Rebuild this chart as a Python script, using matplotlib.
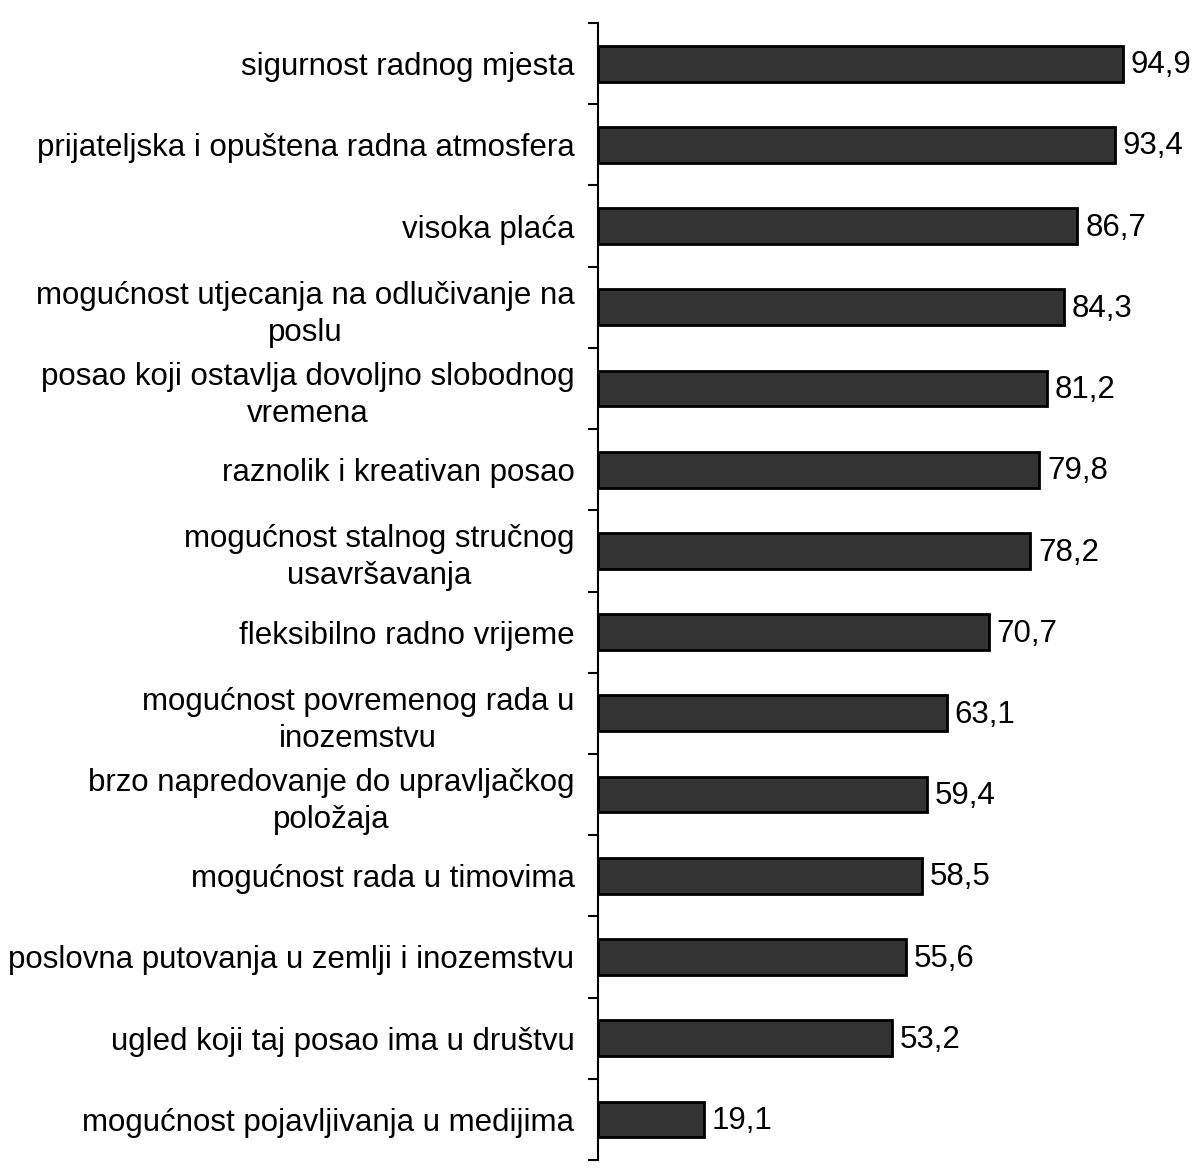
import matplotlib.pyplot as plt
import numpy as np

plt.rcParams['font.family'] = ['Liberation Sans', 'DejaVu Sans']

kategorije = [
    "sigurnost radnog mjesta",
    "prijateljska i opuštena radna atmosfera",
    "visoka plaća",
    "mogućnost utjecanja na odlučivanje na\nposlu",
    "posao koji ostavlja dovoljno slobodnog\nvremena",
    "raznolik i kreativan posao",
    "mogućnost stalnog stručnog\nusavršavanja",
    "fleksibilno radno vrijeme",
    "mogućnost povremenog rada u\ninozemstvu",
    "brzo napredovanje do upravljačkog\npoložaja",
    "mogućnost rada u timovima",
    "poslovna putovanja u zemlji i inozemstvu",
    "ugled koji taj posao ima u društvu",
    "mogućnost pojavljivanja u medijima",
]
vrijednosti = [94.9, 93.4, 86.7, 84.3, 81.2, 79.8, 78.2, 70.7, 63.1, 59.4, 58.5, 55.6, 53.2, 19.1]
oznake = ["94,9", "93,4", "86,7", "84,3", "81,2", "79,8", "78,2", "70,7", "63,1", "59,4", "58,5", "55,6", "53,2", "19,1"]

fig = plt.figure(figsize=(11.98, 11.76), dpi=100)
ax = fig.add_axes([0.4992, 0.0136, 0.4616, 0.9668])

n = len(kategorije)
y = np.arange(n)
ax.barh(y, vrijednosti, height=0.44, color="#333333", edgecolor="black", linewidth=2)

for yi, v, t in zip(y, vrijednosti, oznake):
    ax.text(v + 1.4, yi + 0.02, t, va="center", ha="left", fontsize=22.5, clip_on=False)

ax.set_xlim(0, 100)
ax.set_ylim(n - 0.5, -0.5)

ax.set_yticks(y)
ax.set_yticklabels(kategorije, fontsize=22.5, multialignment="center", linespacing=1.3)
ax.tick_params(axis="y", which="major", length=0, pad=17)
ax.set_yticks(np.arange(-0.5, n, 1.0), minor=True)
ax.tick_params(axis="y", which="minor", length=7, width=1.5, direction="out")

ax.set_xticks([])
for s in ["top", "right", "bottom"]:
    ax.spines[s].set_visible(False)
ax.spines["left"].set_linewidth(1.5)

fig.savefig("out.png", dpi=100)
